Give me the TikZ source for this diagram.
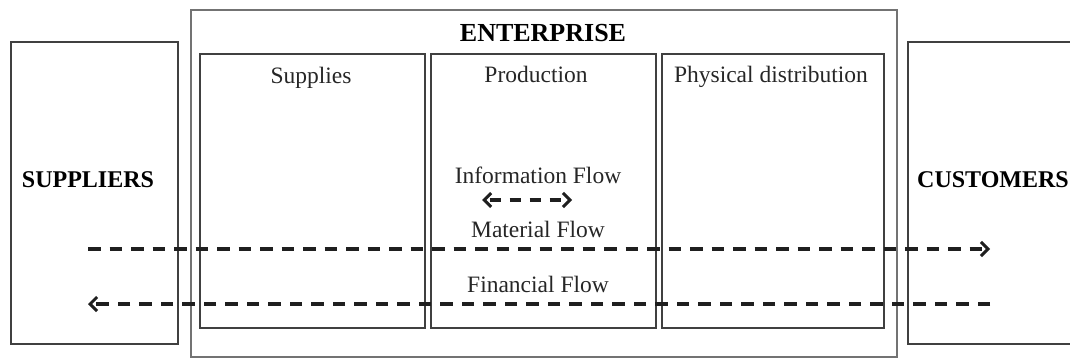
\documentclass[tikz,border=0pt]{standalone}
\usepackage{fontspec}
\setmainfont{Liberation Serif}
\usetikzlibrary{arrows.meta}
\begin{document}
\begin{tikzpicture}[x=1pt,y=-1pt,
  box/.style={draw=black!75, line width=1.6pt, inner sep=0pt, anchor=north west},
  outerbox/.style={draw=black!55, line width=1.6pt, inner sep=0pt, anchor=north west},
  lbl/.style={font=\fontsize{23.5}{26}\selectfont, inner sep=0pt, anchor=base, text=black!85},
  bold/.style={font=\fontsize{24}{26}\selectfont\bfseries, inner sep=0pt, anchor=base},
  barb/.tip={Straight Barb[length=7pt,width=14pt,line width=3pt]},
  flow/.style={line width=3.4pt, dash pattern=on 12.5pt off 9pt, color=black!88},
  tip/.style={-barb}
]
\useasboundingbox (0,0) rectangle (1070,358);
\begin{scope}
\clip (0,0) rectangle (1070,358);
% outer blocks
\node[box, minimum width=167pt, minimum height=302pt] (suppliers) at (10,41) {};
\node[box, minimum width=175pt, minimum height=302pt] (customers) at (907,41) {};
\node[outerbox, minimum width=706pt, minimum height=347pt] (enterprise) at (190,9) {};
% departments
\node[box, minimum width=225pt, minimum height=274pt] (supplies) at (199,53) {};
\node[box, minimum width=225pt, minimum height=274pt] (production) at (430,53) {};
\node[box, minimum width=222pt, minimum height=274pt] (distribution) at (661,53) {};
\end{scope}

% titles
\node[bold, font=\fontsize{26}{28}\selectfont\bfseries] (tent) at (543,42) {ENTERPRISE};
\node[bold] (tsup) at (88,187) {SUPPLIERS};
\node[bold, anchor=base west] (tcus) at (917,187) {CUSTOMERS};
\node[lbl] (tsupplies) at (311,84) {Supplies};
\node[lbl] (tprod) at (536,83) {Production};
\node[lbl] (tdist) at (771,83) {Physical distribution};

% flow labels
\node[lbl] (tinfo) at (538,184) {Information Flow};
\node[lbl] (tmat) at (538,237) {Material Flow};
\node[lbl] (tfin) at (538,292) {Financial Flow};

% flow lines
\coordinate (infoL) at (482,200);
\coordinate (infoR) at (572,200);
\coordinate (matS) at (88,249);
\coordinate (matE) at (990,249);
\coordinate (finS) at (990,304);
\coordinate (finE) at (88,304);
\draw[flow, barb-barb, dash pattern=on 11pt off 9pt, dash phase=-4pt] (infoL) -- (infoR);
\draw[flow, tip] (matS) -- (matE);
\draw[flow, tip] (finS) -- (finE);
\end{tikzpicture}
\end{document}
